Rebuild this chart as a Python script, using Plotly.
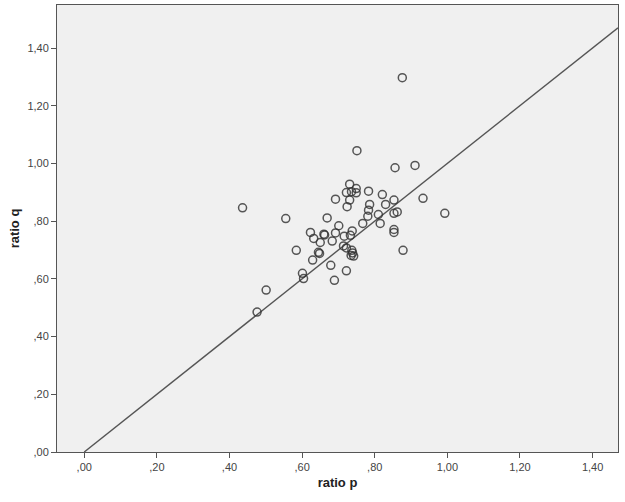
import plotly.graph_objects as go

ratio_p = [0.436, 0.555, 0.731, 0.722, 0.736, 0.749, 0.749, 0.783, 0.821, 0.853,
           0.933, 0.993, 0.692, 0.731, 0.724, 0.830, 0.786, 0.783, 0.781, 0.810,
           0.853, 0.862, 0.815, 0.767, 0.669, 0.701, 0.623, 0.660, 0.662, 0.692,
           0.738, 0.733, 0.632, 0.650, 0.683, 0.716, 0.853, 0.853, 0.878, 0.584,
           0.645, 0.648, 0.714, 0.722, 0.737, 0.739, 0.742, 0.735, 0.629, 0.679,
           0.722, 0.601, 0.604, 0.689, 0.501, 0.476, 0.876, 0.751, 0.856, 0.911]
ratio_q = [0.846, 0.809, 0.928, 0.899, 0.902, 0.898, 0.913, 0.904, 0.892, 0.873,
           0.879, 0.827, 0.876, 0.873, 0.850, 0.858, 0.858, 0.838, 0.817, 0.823,
           0.827, 0.832, 0.792, 0.792, 0.811, 0.784, 0.761, 0.755, 0.752, 0.759,
           0.766, 0.751, 0.740, 0.726, 0.731, 0.748, 0.771, 0.761, 0.699, 0.699,
           0.692, 0.688, 0.714, 0.707, 0.699, 0.690, 0.679, 0.681, 0.665, 0.647,
           0.628, 0.619, 0.601, 0.595, 0.561, 0.485, 1.297, 1.044, 0.985, 0.993]

x_ticks = [0.0, 0.2, 0.4, 0.6, 0.8, 1.0, 1.2, 1.4]
x_tick_labels = [",00", ",20", ",40", ",60", ",80", "1,00", "1,20", "1,40"]
y_ticks = [0.0, 0.2, 0.4, 0.6, 0.8, 1.0, 1.2, 1.4]
y_tick_labels = [",00", ",20", ",40", ",60", ",80", "1,00", "1,20", "1,40"]

x_range = [-0.075, 1.470]
y_range = [0.0, 1.549]

ref_line = [0.0, x_range[1]]

fig = go.Figure()
fig.add_trace(go.Scatter(
    x=ref_line, y=ref_line, mode="lines",
    line=dict(color="#555555", width=1.4),
    hoverinfo="skip", showlegend=False, cliponaxis=True))
fig.add_trace(go.Scatter(
    x=ratio_p, y=ratio_q, mode="markers",
    marker=dict(symbol="circle-open", size=8,
                line=dict(width=1.5, color="rgba(50,50,50,0.82)"),
                color="rgba(50,50,50,0.82)"),
    showlegend=False))

axis_common = dict(
    showline=True, linecolor="#555555", linewidth=1, mirror=True,
    ticks="outside", ticklen=5, tickcolor="#555555", tickwidth=1,
    showgrid=False, zeroline=False,
    tickfont=dict(family="Liberation Sans, Arial, sans-serif", size=11, color="#444444"),
)

fig.update_xaxes(range=x_range, tickvals=x_ticks, ticktext=x_tick_labels,
                 title=dict(text="ratio p", standoff=5,
                            font=dict(family="Liberation Sans, Arial, sans-serif",
                                      size=13, color="#222222", weight="bold")),
                 **axis_common)
fig.update_yaxes(range=y_range, tickvals=y_ticks, ticktext=y_tick_labels,
                 title=dict(text="ratio q", standoff=4,
                            font=dict(family="Liberation Sans, Arial, sans-serif",
                                      size=13, color="#222222", weight="bold")),
                 **axis_common)

fig.update_layout(
    width=625, height=502,
    margin=dict(l=57, r=7, t=5, b=50, autoexpand=False),
    paper_bgcolor="white", plot_bgcolor="#F0F0F0",
)

fig.write_html("out.html",
               config={"displayModeBar": False},
               post_script="document.body.style.margin='0px';document.body.style.padding='0px';")
